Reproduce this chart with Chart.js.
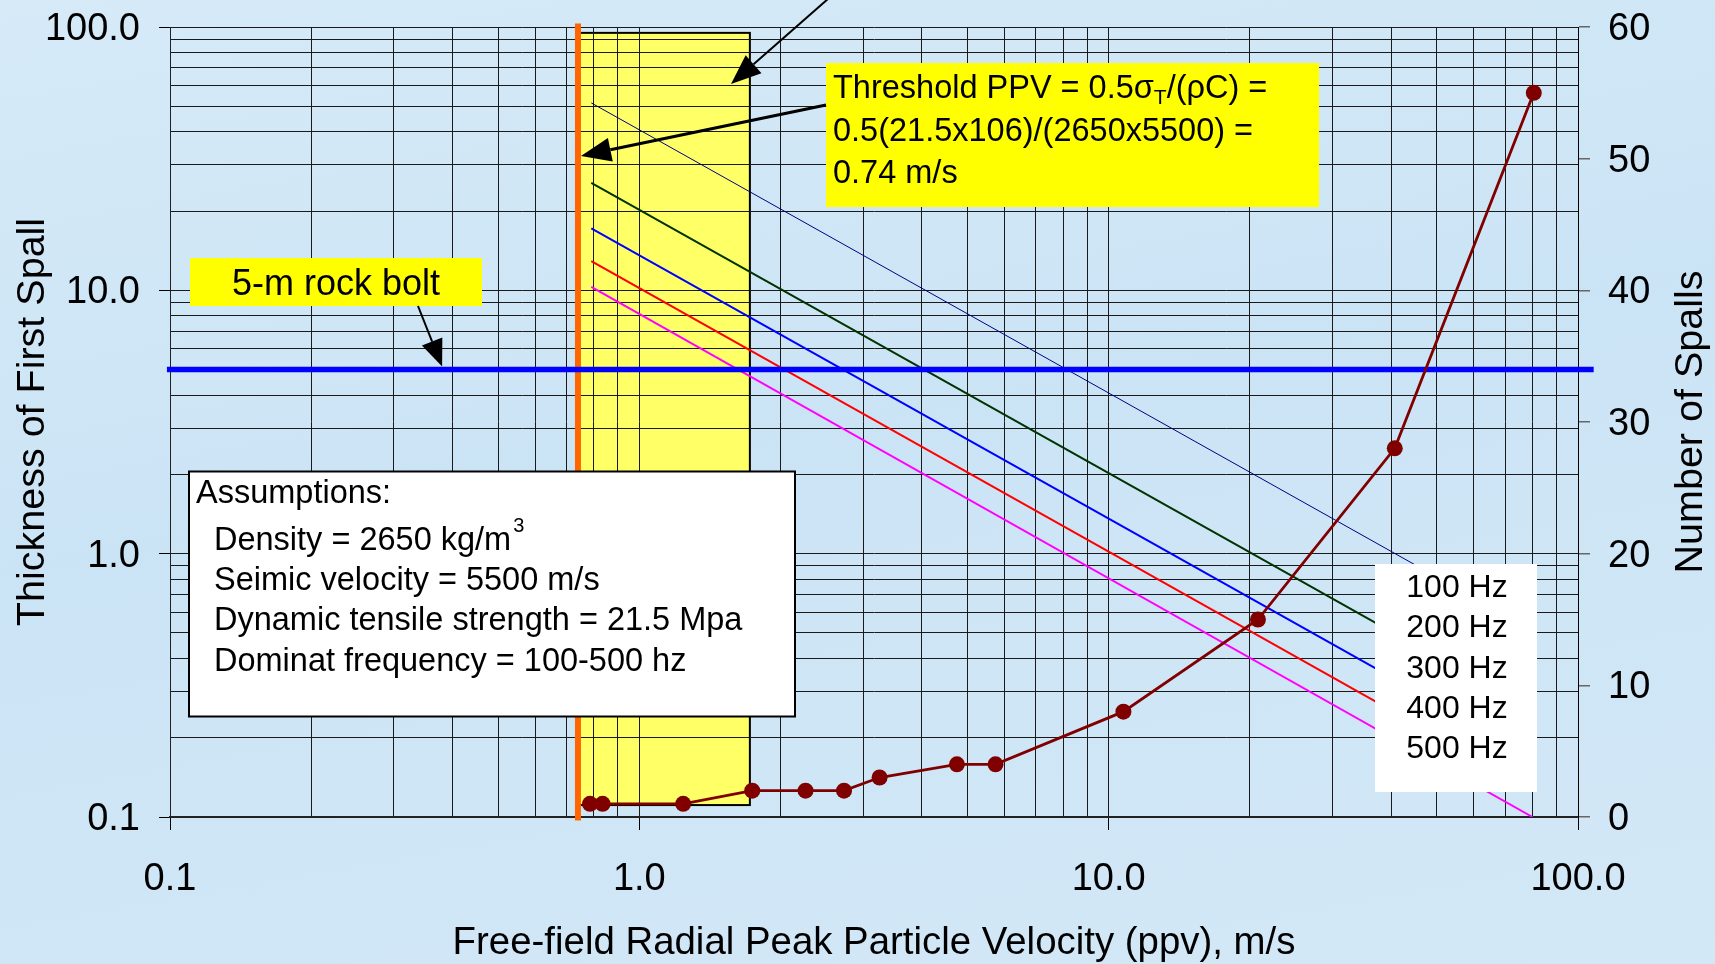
<!DOCTYPE html>
<html>
<head>
<meta charset="utf-8">
<title>Thickness of First Spall</title>
<script src="https://cdn.jsdelivr.net/npm/chart.js@4.4.0/dist/chart.umd.min.js"></script>
<style>
  html, body { margin: 0; padding: 0; width: 1715px; height: 964px; overflow: hidden;
    background: linear-gradient(170deg, #d6eaf8 0%, #cbe4f5 45%, #d3e8f7 100%); }
  #wrap { position: relative; width: 1715px; height: 964px; }
</style>
</head>
<body>
<div id="wrap"><canvas id="spall-chart" width="1715" height="964"></canvas></div>
<script>
const FONT = '"Liberation Sans", Arial, sans-serif';

// frequency lines: thickness of first spall (m) at the first and last ppv
const freqLabels = ["100 Hz", "200 Hz", "300 Hz", "400 Hz", "500 Hz"];
const freqPpv = [0.79, 80];
const hz100 = [51.5, 0.51];
const hz200 = [25.6, 0.253];
const hz300 = [17.2, 0.17];
const hz400 = [12.9, 0.127];
const hz500 = [10.3, 0.1];
const freqColors = ["#000080", "#003300", "#0000ff", "#ff0000", "#ff00ff"];

// number of spalls (right axis)
const spallPpv = [0.785, 0.835, 1.24, 1.74, 2.26, 2.73, 3.25, 4.75, 5.74, 10.75, 20.8, 40.7, 80.5];
const spallCount = [1, 1, 1, 2, 2, 2, 3, 4, 4, 8, 15, 28, 55];

// reference lines
const thresholdPpv = 0.74;
const thresholdSpan = [0.097, 103];
const boltThickness = 5;
const boltSpan = [0.0985, 108];

// shaded range box
const rangeBoxPpv = [0.74, 1.72];
const rangeBoxThick = [0.111, 95];

// axis ticks
const logTicks = [0.1, 1, 10, 100];
const logTickLabels = ["0.1", "1.0", "10.0", "100.0"];
const spallTicks = [0, 10, 20, 30, 40, 50, 60];

function logGrid() {
  const vals = [];
  for (let e = -1; e < 2; e++) {
    for (let m = 1; m < 10; m++) vals.push(+(m * Math.pow(10, e)).toPrecision(3));
  }
  vals.push(100);
  return vals;
}
const gridValues = logGrid();

function isMajor(v) {
  return logTicks.some(t => Math.abs(t - v) < 1e-9);
}
function logLabel(v) {
  const i = logTicks.findIndex(t => Math.abs(t - v) < 1e-9);
  return i >= 0 ? logTickLabels[i] : "";
}
function majorTickColor(c) {
  return c.tick && isMajor(c.tick.value) ? "#000" : "rgba(0,0,0,0)";
}

function arrow(ctx, x1, y1, x2, y2, head, half, width) {
  const a = Math.atan2(y2 - y1, x2 - x1);
  const bx = x2 - head * Math.cos(a);
  const by = y2 - head * Math.sin(a);
  ctx.beginPath();
  ctx.moveTo(x1, y1);
  ctx.lineTo(bx, by);
  ctx.lineWidth = width;
  ctx.strokeStyle = "#000";
  ctx.stroke();
  ctx.beginPath();
  ctx.moveTo(x2, y2);
  ctx.lineTo(bx + half * Math.sin(a), by - half * Math.cos(a));
  ctx.lineTo(bx - half * Math.sin(a), by + half * Math.cos(a));
  ctx.closePath();
  ctx.fillStyle = "#000";
  ctx.fill();
}

const rangeBoxPlugin = {
  id: "rangeBox",
  beforeDraw(chart) {
    const { ctx, scales: { x, y } } = chart;
    const left = x.getPixelForValue(rangeBoxPpv[0]);
    const right = x.getPixelForValue(rangeBoxPpv[1]);
    const top = y.getPixelForValue(rangeBoxThick[1]);
    const bottom = y.getPixelForValue(rangeBoxThick[0]);
    ctx.save();
    ctx.fillStyle = "#ffff66";
    ctx.fillRect(left, top, right - left, bottom - top);
    ctx.strokeStyle = "#000";
    ctx.lineWidth = 2;
    ctx.strokeRect(left, top, right - left, bottom - top);
    ctx.restore();
  }
};

const notesPlugin = {
  id: "notes",
  afterDraw(chart) {
    const { ctx, scales: { x, y }, chartArea } = chart;
    ctx.save();
    ctx.fillStyle = "#000";

    // arrow from the label above the picture to the range box
    arrow(ctx, 845, -16, 731, 84, 30, 12, 2);

    // threshold note
    ctx.fillStyle = "#ffff00";
    ctx.fillRect(826, 63, 493, 144);
    ctx.fillStyle = "#000";
    ctx.font = "32.5px " + FONT;
    ctx.textAlign = "left";
    ctx.textBaseline = "alphabetic";
    let tx = 833;
    const part1 = "Threshold PPV = 0.5\u03c3";
    ctx.fillText(part1, tx, 97.5);
    tx += ctx.measureText(part1).width;
    ctx.font = "21px " + FONT;
    ctx.fillText("T", tx, 104);
    tx += ctx.measureText("T").width;
    ctx.font = "32.5px " + FONT;
    ctx.fillText("/(\u03c1C) =", tx, 97.5);
    ctx.fillText("0.5(21.5x106)/(2650x5500) =", 833, 141);
    ctx.fillText("0.74 m/s", 833, 182.5);
    arrow(ctx, 826, 105, x.getPixelForValue(thresholdPpv) + 3, y.getPixelForValue(32.4), 30, 12, 3);

    // rock bolt label
    ctx.fillStyle = "#ffff00";
    ctx.fillRect(190, 258, 292, 48);
    ctx.fillStyle = "#000";
    ctx.font = "36px " + FONT;
    ctx.textAlign = "center";
    ctx.fillText("5-m rock bolt", 336, 295);
    arrow(ctx, 418, 306, x.getPixelForValue(0.38), y.getPixelForValue(boltThickness) - 3, 27, 11, 2);

    // assumptions box
    ctx.fillStyle = "#fff";
    ctx.fillRect(189, 471.5, 606, 245);
    ctx.strokeStyle = "#000";
    ctx.lineWidth = 2;
    ctx.strokeRect(189, 471.5, 606, 245);
    ctx.fillStyle = "#000";
    ctx.textAlign = "left";
    ctx.font = "32.5px " + FONT;
    ctx.fillText("Assumptions:", 196, 503);
    const dens = "Density = 2650 kg/m";
    ctx.fillText(dens, 214, 550);
    const dw = ctx.measureText(dens).width;
    ctx.font = "20px " + FONT;
    ctx.fillText("3", 214 + dw + 2, 532);
    ctx.font = "32.5px " + FONT;
    ctx.fillText("Seimic velocity = 5500 m/s", 214, 590);
    ctx.fillText("Dynamic tensile strength = 21.5 Mpa", 214, 630);
    ctx.fillText("Dominat frequency = 100-500 hz", 214, 670.5);

    // frequency legend
    ctx.fillStyle = "#fff";
    ctx.fillRect(1375, 564, 162, 228);
    ctx.fillStyle = "#000";
    ctx.textAlign = "center";
    ctx.font = "32px " + FONT;
    freqLabels.forEach((lab, i) => {
      ctx.fillText(lab, 1457, 597 + i * 40.3);
    });

    // right axis title, reading upwards
    ctx.font = "39.5px " + FONT;
    ctx.translate(1691, (chartArea.top + chartArea.bottom) / 2);
    ctx.rotate(-Math.PI / 2);
    ctx.textAlign = "center";
    ctx.textBaseline = "middle";
    ctx.fillText("Number of Spalls", 0, 0);
    ctx.restore();
  }
};

const freqSeries = [hz100, hz200, hz300, hz400, hz500];
const datasets = freqSeries.map((vals, i) => ({
  label: freqLabels[i],
  data: freqPpv.map((p, j) => ({ x: p, y: vals[j] })),
  borderColor: freqColors[i],
  borderWidth: i === 0 ? 1 : 2,
  pointRadius: 0,
  yAxisID: "y",
  order: 3
}));

datasets.push({
  label: "5-m rock bolt",
  data: boltSpan.map(p => ({ x: p, y: boltThickness })),
  borderColor: "#0000ff",
  borderWidth: 5.5,
  pointRadius: 0,
  yAxisID: "y",
  clip: false,
  order: 2
});
datasets.push({
  label: "Threshold PPV",
  data: thresholdSpan.map(t => ({ x: thresholdPpv, y: t })),
  borderColor: "#ff6600",
  borderWidth: 6,
  pointRadius: 0,
  yAxisID: "y",
  clip: false,
  order: 2
});
datasets.push({
  label: "Number of Spalls",
  data: spallPpv.map((p, i) => ({ x: p, y: spallCount[i] })),
  borderColor: "#800000",
  backgroundColor: "#800000",
  pointBackgroundColor: "#800000",
  borderWidth: 2.8,
  pointRadius: 8,
  pointBorderWidth: 0,
  yAxisID: "y2",
  order: 0
});

// fixed axis boxes so the plot area sits where the original one does
function fitSide(width) {
  return s => {
    s.width = width;
    s.paddingTop = 0;
    s.paddingBottom = 0;
  };
}

Chart.defaults.font.family = FONT;
Chart.defaults.color = "#000";

const ctx = document.getElementById("spall-chart").getContext("2d");
const spallChart = new Chart(ctx, {
  type: "line",
  data: { datasets: datasets },
  plugins: [rangeBoxPlugin, notesPlugin],
  options: {
    responsive: false,
    animation: false,
    events: [],
    layout: { padding: { top: 27, left: 0, right: 0, bottom: 0 } },
    plugins: {
      legend: { display: false },
      tooltip: { enabled: false }
    },
    scales: {
      x: {
        type: "logarithmic",
        min: 0.1,
        max: 100,
        afterBuildTicks: s => { s.ticks = gridValues.map(v => ({ value: v })); },
        afterFit: s => { s.height = 147; s.paddingLeft = 0; s.paddingRight = 0; },
        ticks: {
          autoSkip: false,
          maxRotation: 0,
          padding: 27,
          font: { size: 38 },
          callback: v => logLabel(v)
        },
        grid: { color: "#1a1a1a", lineWidth: 1, tickLength: 13, tickColor: majorTickColor },
        border: { color: "#222", width: 2 },
        title: {
          display: true,
          text: "Free-field Radial Peak Particle Velocity (ppv), m/s",
          font: { size: 38.4 },
          padding: { top: 0, bottom: -2 }
        }
      },
      y: {
        type: "logarithmic",
        position: "left",
        min: 0.1,
        max: 100,
        afterBuildTicks: s => { s.ticks = gridValues.map(v => ({ value: v })); },
        afterFit: fitSide(170),
        ticks: {
          autoSkip: false,
          padding: 19,
          labelOffset: 2.5,
          font: { size: 38 },
          callback: v => logLabel(v)
        },
        grid: { color: "#1a1a1a", lineWidth: 1, tickLength: 11, tickColor: majorTickColor },
        border: { color: "#222", width: 1 },
        title: {
          display: true,
          text: "Thickness of First Spall",
          font: { size: 39.5 },
          padding: { top: 9, bottom: 0 }
        }
      },
      y2: {
        type: "linear",
        position: "right",
        min: 0,
        max: 60,
        afterBuildTicks: s => { s.ticks = spallTicks.map(v => ({ value: v })); },
        afterFit: fitSide(137),
        ticks: {
          padding: 18,
          labelOffset: 2.5,
          font: { size: 38 },
          callback: v => String(v)
        },
        grid: { drawOnChartArea: false, tickLength: 12, tickColor: "#666", lineWidth: 1.5 },
        border: { color: "#000", width: 1 }
      }
    }
  }
});
</script>
</body>
</html>
